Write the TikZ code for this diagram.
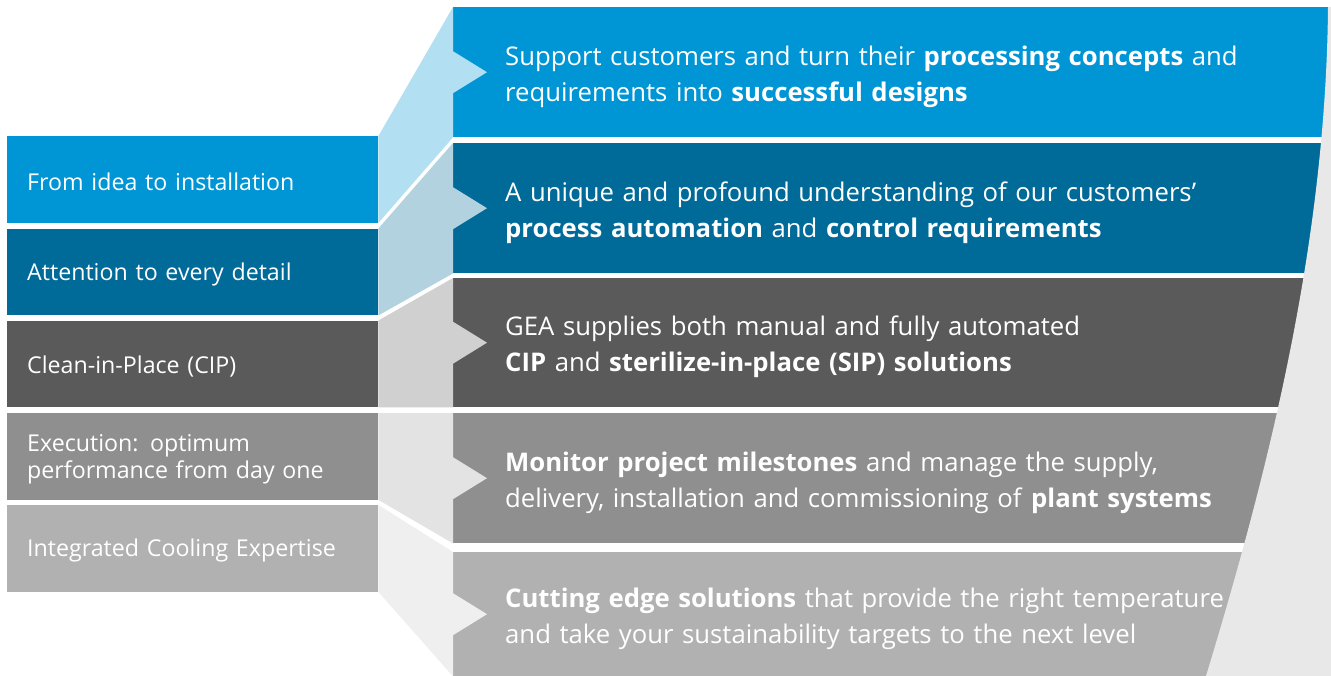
\documentclass[tikz,border=0pt]{standalone}
\usepackage{fontspec}
\setmainfont{Open Sans}
\usetikzlibrary{calc}
\definecolor{pA}{HTML}{0096D6}
\definecolor{pB}{HTML}{006A99}
\definecolor{pC}{HTML}{5A5A5A}
\definecolor{pD}{HTML}{8F8F8F}
\definecolor{pE}{HTML}{B1B1B1}
\definecolor{fA}{HTML}{B3DFF3}
\definecolor{fB}{HTML}{B2D2DF}
\definecolor{fC}{HTML}{D0D0D0}
\definecolor{fD}{HTML}{E3E3E3}
\definecolor{fE}{HTML}{EFEFEF}
\definecolor{edgegray}{HTML}{E8E8E8}
\tikzset{
  textdrop/.style={execute at begin node={\rule{0pt}{#1}}},
  lbox/.style={anchor=north west, inner xsep=20pt, inner ysep=0pt, text width=331pt,
    minimum height=86.5pt, text=white, align=left, textdrop=22pt,
    font=\fontsize{23.2}{27}\selectfont},
  rpanel/.style={anchor=north west, inner xsep=52pt, inner ysep=0pt, text width=774pt,
    text=white, align=left, textdrop=28.5pt, font=\fontsize{25.7}{36}\selectfont},
}
\begin{document}
\begin{tikzpicture}[x=1pt, y=-1pt]
    \fill[white] (0,0) rectangle (1331,676);
    \useasboundingbox (0,0) rectangle (1331,676);
    %------------Paneles derecha----------
    \node[rpanel, fill=pA, minimum height=130pt] (r1) at (453,7)
        {Support customers and turn their \textbf{processing concepts} and\\
         requirements into \textbf{successful designs}};
    \node[rpanel, fill=pB, minimum height=130pt] (r2) at (453,143)
        {A unique and profound understanding of our customers'\\
         \textbf{process automation} and \textbf{control requirements}};
    \node[rpanel, fill=pC, minimum height=129pt] (r3) at (453,278)
        {GEA supplies both manual and fully automated\\
         \textbf{CIP} and \textbf{sterilize-in-place (SIP) solutions}};
    \node[rpanel, fill=pD, minimum height=130pt] (r4) at (453,413)
        {\textbf{Monitor project milestones} and manage the supply,\\
         delivery, installation and commissioning of \textbf{plant systems}};
    \node[rpanel, fill=pE, minimum height=124pt] (r5) at (453,552)
        {\textbf{Cutting edge solutions} that provide the right temperature\\
         and take your sustainability targets to the next level};
    %------------Cajas izquierda----------
    \node[lbox, fill=pA] (l1) at (7,136) {From idea to installation};
    \node[lbox, fill=pB] (l2) at (7,228.5) {Attention to every detail};
    \node[lbox, fill=pC] (l3) at (7,320.5) {Clean-in-Place (CIP)};
    \node[lbox, fill=pD] (l4) at (7,413) {Execution: optimum\\performance from day one};
    \node[lbox, fill=pE] (l5) at (7,505) {Integrated Cooling Expertise};
    %------------Abanicos------------------
    \foreach \i/\col in {1/fA,2/fB,3/fC,4/fD,5/fE} {
        \fill[\col] (l\i.north east) -- (r\i.north west)
            -- ($(r\i.west)+(0,-21)$) -- ($(r\i.west)+(34,0)$) -- ($(r\i.west)+(0,21)$)
            -- (r\i.south west) -- (l\i.south east) -- cycle;
    }
    %------------Borde curvo---------------
    \fill[edgegray] (1328,7) .. controls (1326,230) and (1275,450) .. (1206,676)
        -- (1331,676) -- (1331,7) -- cycle;
\end{tikzpicture}
\end{document}
